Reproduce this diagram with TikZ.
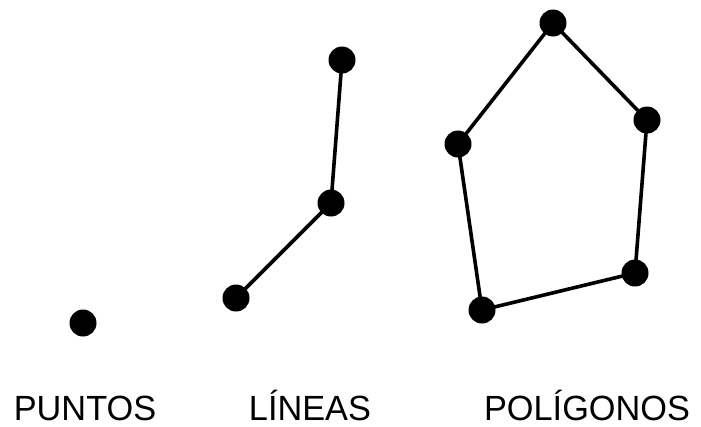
\documentclass[tikz,border=0pt]{standalone}
\usepackage{fontspec}
\setmainfont{Liberation Sans}
\begin{document}
\begin{tikzpicture}[x=1pt,y=-1pt,
  dot/.style={circle,fill=black,inner sep=0pt,minimum size=27pt},
  seg/.style={line width=3.6pt},
  lab/.style={font=\fontsize{35}{40}\selectfont,anchor=base,inner sep=0pt}]
\useasboundingbox (0,0) rectangle (701,426);
\node[dot] (p) at (83,323) {};
\node[dot] (l1) at (342,60) {};
\node[dot] (l2) at (331,203) {};
\node[dot] (l3) at (236,298) {};
\node[dot] (g1) at (553,23) {};
\node[dot] (g2) at (647,120) {};
\node[dot] (g3) at (635,273) {};
\node[dot] (g4) at (482,310) {};
\node[dot] (g5) at (458,144) {};
\draw[seg] (l1.center) -- (l2.center) -- (l3.center);
\draw[seg] (g1.center) -- (g2.center) -- (g3.center) -- (g4.center) -- (g5.center) -- cycle;
\node[lab,xscale=0.98] (t1) at (85,420) {PUNTOS};
\node[lab,xscale=0.98] (t2) at (310,420) {LÍNEAS};
\node[lab,xscale=0.98] (t3) at (587,420) {POLÍGONOS};
\end{tikzpicture}
\end{document}
